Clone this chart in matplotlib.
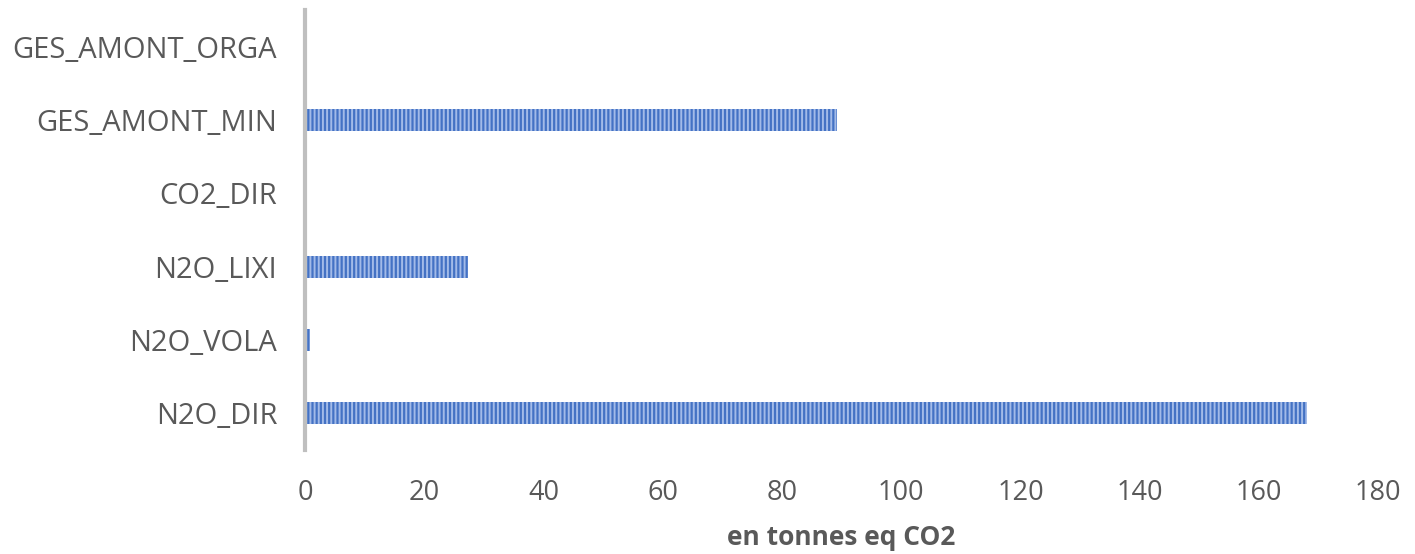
import matplotlib.pyplot as plt

# categories bottom to top
categories = ['N2O_DIR', 'N2O_VOLA', 'N2O_LIXI', 'CO2_DIR', 'GES_AMONT_MIN', 'GES_AMONT_ORGA']
values = [168.0, 0.8, 27.3, 0, 89.3, 0]
xticks = [0, 20, 40, 60, 80, 100, 120, 140, 160, 180]

plt.rcParams['font.family'] = ['Open Sans', 'DejaVu Sans']
plt.rcParams['hatch.color'] = '#a3bbe8'
plt.rcParams['hatch.linewidth'] = 1.4

fig = plt.figure(figsize=(14.15, 5.54), dpi=100)
ax = fig.add_axes([0.2155, 0.188, 0.7585, 0.794])

ax.barh(categories, values, height=0.3, color='#4472c4', hatch='||||', linewidth=0)

ax.set_xlim(0, 180)
ax.set_ylim(-0.5, len(categories) - 0.5)
ax.set_xticks(xticks)
for s in ['top', 'right', 'bottom']:
    ax.spines[s].set_visible(False)
ax.spines['left'].set_color('#bfbfbf')
ax.spines['left'].set_linewidth(3)
ax.tick_params(axis='both', length=0, labelcolor='#595959')
ax.tick_params(axis='y', pad=20, labelsize=21)
ax.tick_params(axis='x', pad=21, labelsize=19.5)
ax.set_xlabel('en tonnes eq CO2', fontsize=19, fontweight='bold', color='#595959', labelpad=12)

fig.savefig('out.png', dpi=100)
